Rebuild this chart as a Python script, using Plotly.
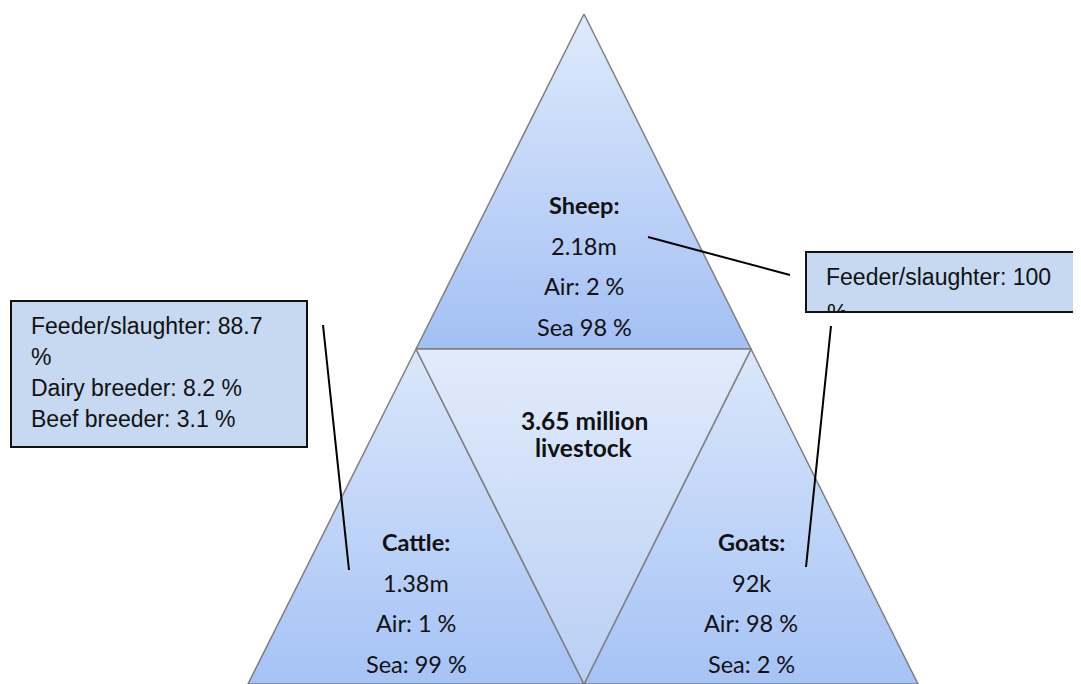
import plotly.graph_objects as go

# window size (pixels); the axes map 1:1 to page pixels
W, H = 1081, 684
PAGE_OFFSET = 8  # default body margin of the html page

# livestock data
species = ["Sheep:", "Cattle:", "Goats:"]
counts = ["2.18m", "1.38m", "92k"]
air_lines = ["Air: 2 %", "Air: 1 %", "Air: 98 %"]
sea_lines = ["Sea 98 %", "Sea: 99 %", "Sea: 2 %"]
total_lines = ["3.65 million", "livestock"]

# callout boxes
cattle_breakdown = ["Feeder/slaughter: 88.7", "%", "Dairy breeder: 8.2 %", "Beef breeder: 3.1 %"]
goat_breakdown = ["Feeder/slaughter: 100", "%"]

# pyramid geometry
apex = (584, 14)
mid_y = 349
base_y = 684
left_mid, right_mid = 416, 751
base_left, base_mid, base_right = 248, 584, 918

triangles = [
    # x, y, top colour, bottom colour
    ([apex[0], right_mid, left_mid, apex[0]], [apex[1], mid_y, mid_y, apex[1]], "#dfeafc", "#a3c0f4"),
    ([left_mid, base_mid, base_left, left_mid], [mid_y, base_y, base_y, mid_y], "#dbe7fb", "#a6c3f5"),
    ([right_mid, base_right, base_mid, right_mid], [mid_y, base_y, base_y, mid_y], "#dbe7fb", "#a6c3f5"),
    ([left_mid, right_mid, base_mid, left_mid], [mid_y, mid_y, base_y, mid_y], "#e2ebfb", "#b9cff5"),
]

fig = go.Figure()

for xs, ys, c0, c1 in triangles:
    fig.add_trace(go.Scatter(
        x=xs, y=ys, mode="lines", fill="toself",
        fillgradient=dict(type="vertical", colorscale=[[0, c0], [1, c1]],
                          start=min(ys), stop=max(ys)),
        line=dict(color="#7f7f7f", width=1.5),
        hoverinfo="skip", showlegend=False,
    ))

calibri = "Lato, Carlito, Calibri, sans-serif"
arial = "Liberation Sans, Arial, sans-serif"

# clipped second line of the right callout (mostly hidden below the box edge)
fig.add_trace(go.Scatter(
    x=[827], y=[315], mode="text", text=[goat_breakdown[1]],
    textposition="middle right",
    textfont=dict(family=arial, size=23, color="#111111"),
    hoverinfo="skip", showlegend=False,
))

annotations = []

label_pos = [(584, 205), (416, 542), (751, 542)]
for i, (cx, top) in enumerate(label_pos):
    rows = [species[i], counts[i], air_lines[i], sea_lines[i]]
    for j, txt in enumerate(rows):
        annotations.append(dict(
            x=cx, y=top + j * 40.7, text=f"<b>{txt}</b>" if j == 0 else txt,
            showarrow=False, xanchor="center", yanchor="middle",
            font=dict(family=calibri, size=23.5, color="#111111"),
        ))

for j, txt in enumerate(total_lines):
    annotations.append(dict(
        x=584, y=420 + j * 27, text=f"<b>{txt}</b>", showarrow=False,
        xanchor="center", yanchor="middle",
        font=dict(family=calibri, size=24.5, color="#111111"),
    ))

for j, txt in enumerate(cattle_breakdown):
    annotations.append(dict(
        x=29, y=326 + j * 31, text=txt, showarrow=False,
        xanchor="left", yanchor="middle",
        font=dict(family=arial, size=23, color="#111111"),
    ))

annotations.append(dict(
    x=824, y=277, text=goat_breakdown[0], showarrow=False,
    xanchor="left", yanchor="middle",
    font=dict(family=arial, size=23, color="#111111"),
))

edge = dict(color="#111111", width=2)
shapes = [
    # left callout box
    dict(type="rect", x0=11, x1=307, y0=301, y1=447, layer="below",
         fillcolor="#c6d9f1", line=edge),
    # right callout box (runs off the page)
    dict(type="rect", x0=806, x1=W + 20, y0=252, y1=312, layer="below",
         fillcolor="#c6d9f1", line=dict(width=0)),
    # cover that clips the overflowing text of the right box
    dict(type="rect", x0=800, x1=W + 20, y0=311, y1=330, layer="above",
         fillcolor="white", line=dict(width=0)),
    dict(type="line", x0=806, x1=W + 20, y0=252, y1=252, layer="above", line=edge),
    dict(type="line", x0=806, x1=W + 20, y0=312, y1=312, layer="above", line=edge),
    dict(type="line", x0=806, x1=806, y0=251, y1=313, layer="above", line=edge),
    # connectors
    dict(type="line", x0=648, y0=237, x1=790, y1=275, layer="above",
         line=dict(color="black", width=2)),
    dict(type="line", x0=323, y0=325, x1=349, y1=570, layer="above",
         line=dict(color="black", width=2)),
    dict(type="line", x0=831, y0=326, x1=806, y1=567, layer="above",
         line=dict(color="black", width=2)),
]

# figure sized so that, with the page margin, it fills the window
fig.update_layout(
    width=W - PAGE_OFFSET, height=H - PAGE_OFFSET, autosize=False,
    margin=dict(l=0, r=0, t=0, b=0),
    paper_bgcolor="white", plot_bgcolor="white",
    xaxis=dict(range=[PAGE_OFFSET, W], visible=False, fixedrange=True),
    yaxis=dict(range=[H, PAGE_OFFSET], visible=False, fixedrange=True),
    annotations=annotations, shapes=shapes, showlegend=False,
)

fig.write_html("out.html")
